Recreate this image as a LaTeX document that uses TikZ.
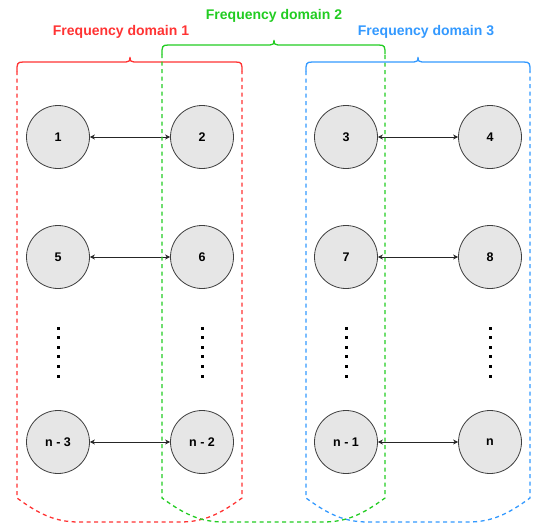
\documentclass[tikz,border=0pt]{standalone}
\usepackage{fontspec}
\setmainfont{Liberation Sans}
\usetikzlibrary{arrows.meta}
\definecolor{fdred}{HTML}{FF3333}
\definecolor{fdgreen}{HTML}{22CC22}
\definecolor{fdblue}{HTML}{3399FF}
\definecolor{nodefill}{HTML}{E6E6E6}
\definecolor{nodeline}{HTML}{404040}

% A frequency-domain frame: #1 colour, #2 left x, #3 right x, #4 top y, #5 brace tip x
\newcommand\fdframe[5]{%
  \draw[#1, line width=1.3pt, line cap=round]
    (#2,#4+9) .. controls (#2,#4+2) and (#2,#4) .. (#2+6,#4)
    -- (#5-4,#4) .. controls (#5-1,#4) and (#5,#4-1) .. (#5,#4-5)
    .. controls (#5,#4-1) and (#5+1,#4) .. (#5+4,#4)
    -- (#3-6,#4) .. controls (#3,#4) and (#3,#4+2) .. (#3,#4+9);
  \draw[#1, line width=1.3pt, dash pattern=on 4pt off 3.5pt]
    (#2,#4+9) -- (#2,498)
    .. controls (#2+22,514) and (#2+38,522) .. (#2+62,522)
    -- (#3-62,522)
    .. controls (#3-38,522) and (#3-22,514) .. (#3,498)
    -- (#3,#4+9);
}

\begin{document}
\begin{tikzpicture}[x=1pt, y=-1pt,
  station/.style={circle, draw=nodeline, fill=nodefill, line width=0.8pt,
    minimum size=63pt, inner sep=0pt, font=\bfseries\fontsize{12.5}{14}\selectfont},
  link/.style={{Stealth[length=5pt,width=5pt]}-{Stealth[length=5pt,width=5pt]},
    line width=0.7pt, black!85},
  domlabel/.style={font=\bfseries\fontsize{14}{16}\selectfont, inner sep=0pt}]
\useasboundingbox (0,0) rectangle (535,523);

% stations
\node[station] (s1)  at (58,137)  {1};
\node[station] (s2)  at (202,137) {2};
\node[station] (s3)  at (346,137) {3};
\node[station] (s4)  at (490,137) {4};
\node[station] (s5)  at (58,257)  {5};
\node[station] (s6)  at (202,257) {6};
\node[station] (s7)  at (346,257) {7};
\node[station] (s8)  at (490,257) {8};
\node[station] (sn3) at (58,442)  {n - 3};
\node[station] (sn2) at (202,442) {n - 2};
\node[station] (sn1) at (346,442) {n - 1};
\node[station] (sn)  at (490,442) {n};

% links between paired stations
\draw[link] (s1) -- (s2);
\draw[link] (s3) -- (s4);
\draw[link] (s5) -- (s6);
\draw[link] (s7) -- (s8);
\draw[link] (sn3) -- (sn2);
\draw[link] (sn1) -- (sn);

% vertical ellipsis in every column
\foreach \cx in {58,202,346,490}
  \foreach \k in {0,...,5}
    \fill[black] (\cx-1.5,328+9.6*\k-1.5) rectangle +(3,3);

% domain frames
\fdframe{fdred}{17}{242}{62}{130}
\fdframe{fdgreen}{162}{385}{45}{274}
\fdframe{fdblue}{306}{530}{62}{418}

% domain labels
\node[domlabel, text=fdred]   (l1) at (121,32) {Frequency domain 1};
\node[domlabel, text=fdgreen] (l2) at (274,16) {Frequency domain 2};
\node[domlabel, text=fdblue]  (l3) at (426,32) {Frequency domain 3};
\end{tikzpicture}
\end{document}
